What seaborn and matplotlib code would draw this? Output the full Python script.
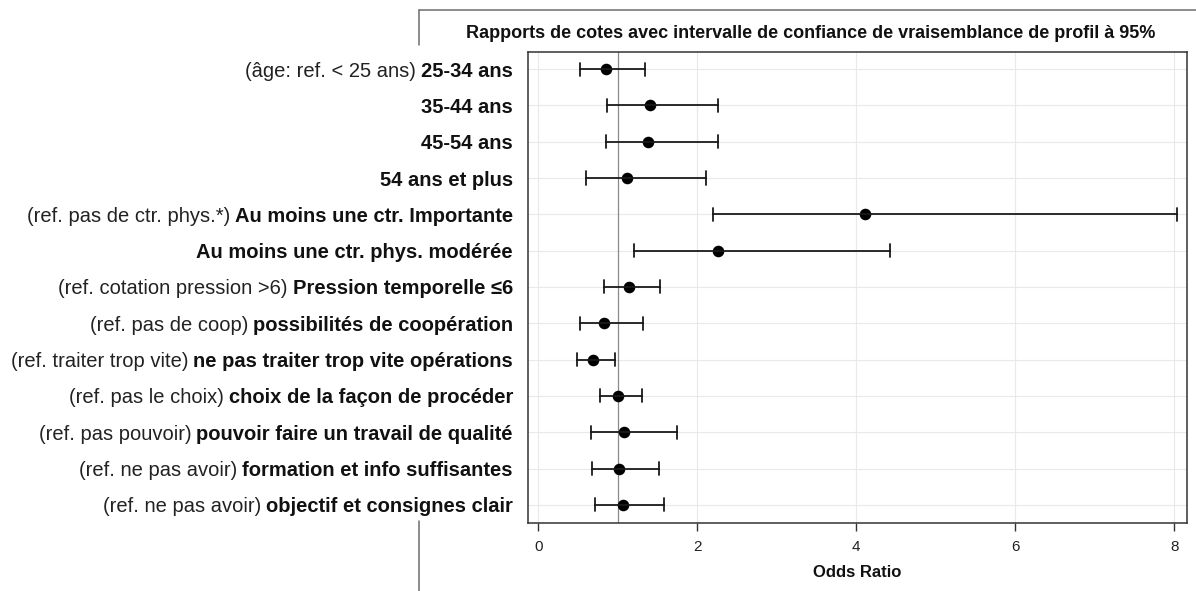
import numpy as np
import pandas as pd
import matplotlib
matplotlib.use("Agg")
import matplotlib.pyplot as plt
import matplotlib.transforms as mtransforms
from matplotlib import font_manager
from matplotlib.lines import Line2D
import seaborn as sns

# ---------------- data ----------------
ref_labels = [
    "(âge: ref. < 25 ans)", "", "", "",
    "(ref. pas de ctr. phys.*)", "",
    "(ref. cotation pression >6)",
    "(ref. pas de coop)",
    "(ref. traiter trop vite)",
    "(ref. pas le choix)",
    "(ref. pas pouvoir)",
    "(ref. ne pas avoir)",
    "(ref. ne pas avoir)",
]
main_labels = [
    "25-34 ans", "35-44 ans", "45-54 ans", "54 ans et plus",
    "Au moins une ctr. Importante", "Au moins une ctr. phys. modérée",
    "Pression temporelle ≤6",
    "possibilités de coopération",
    "ne pas traiter trop vite opérations",
    "choix de la façon de procéder",
    "pouvoir faire un travail de qualité",
    "formation et info suffisantes",
    "objectif et consignes clair",
]
odds_ratio = [0.85, 1.40, 1.38, 1.12, 4.11, 2.26, 1.14, 0.83, 0.69, 1.00, 1.08, 1.02, 1.06]
ci_lower   = [0.52, 0.86, 0.85, 0.60, 2.20, 1.20, 0.83, 0.52, 0.49, 0.77, 0.66, 0.67, 0.71]
ci_upper   = [1.34, 2.26, 2.26, 2.11, 8.04, 4.43, 1.53, 1.32, 0.97, 1.31, 1.74, 1.52, 1.58]
x_ticks = [0, 2, 4, 6, 8]
title = "Rapports de cotes avec intervalle de confiance de vraisemblance de profil à 95%"
x_label = "Odds Ratio"

# long table: lower / estimate / upper per row
df = pd.DataFrame({
    "label": np.repeat(main_labels, 3),
    "value": np.ravel(np.column_stack([ci_lower, odds_ratio, ci_upper])),
})

# ---------------- fonts ----------------
sns.set_style("white")
plt.rcParams["font.family"] = ["Liberation Sans", "DejaVu Sans"]

W, H = 1196, 591
fig = plt.figure(figsize=(W / 100, H / 100), dpi=100)
ax_l, ax_r, ax_t, ax_b = 528, 1187, 52, 523
ax = fig.add_axes([ax_l / W, 1 - ax_b / H, (ax_r - ax_l) / W, (ax_b - ax_t) / H])

ax.axvline(1, color="#8a8a8a", lw=0.9, zorder=1.5)

sns.pointplot(
    data=df, x="value", y="label", order=main_labels, orient="h",
    estimator="median", errorbar=lambda v: (v.min(), v.max()),
    color="black", linestyle="none", marker="o", markersize=6.3,
    capsize=0.36, err_kws={"linewidth": 1.3, "color": "#1a1a1a"}, ax=ax,
)

ax.set_xlim(-0.13, 8.16)
ax.set_ylim(len(main_labels) - 0.5, -0.47)
ax.set_xticks(x_ticks)
ax.set_xticklabels([str(t) for t in x_ticks], fontsize=11, color="#222")
ax.tick_params(axis="x", direction="out", length=6, width=1, color="#333", pad=6, bottom=True)
ax.tick_params(axis="y", length=0, labelleft=False)
ax.set_ylabel("")
ax.set_xlabel(x_label, fontweight="bold", fontsize=12, labelpad=8, color="#111")
ax.grid(True, color="#e9e9e9", linewidth=0.8)
ax.set_axisbelow(True)
for s in ax.spines.values():
    s.set_visible(True)
    s.set_color("#333333")
    s.set_linewidth(1.1)

# title
fig.text(811 / W, 1 - 34 / H, title, ha="center", va="center", fontweight="bold",
         fontsize=13, color="#111")

# outer frame fragments
frame_kw = dict(color="#6e6e6e", lw=1.1, transform=fig.transFigure)
fig.add_artist(Line2D([419 / W, 1.0], [1 - 10 / H, 1 - 10 / H], **frame_kw))
fig.add_artist(Line2D([419 / W, 419 / W], [1 - 10 / H, 1 - 45 / H], **frame_kw))
fig.add_artist(Line2D([419 / W, 419 / W], [1 - 521 / H, 0.0], **frame_kw))

# mixed-weight row labels
trans = mtransforms.blended_transform_factory(ax.transAxes, ax.transData)
fig.canvas.draw()
renderer = fig.canvas.get_renderer()
axbb = ax.get_window_extent(renderer)
x_right = (513 - ax_l) / (ax_r - ax_l)
fs = 14.5
for i, (rl, ml) in enumerate(zip(ref_labels, main_labels)):
    tb = ax.text(x_right, i, ml, ha="right", va="center_baseline", fontweight="bold",
                 fontsize=fs, color="#111", transform=trans, clip_on=False)
    if rl:
        bb = tb.get_window_extent(renderer)
        xr = (bb.x0 - 5 - axbb.x0) / axbb.width
        ax.text(xr, i, rl, ha="right", va="center_baseline", fontsize=fs,
                color="#222", transform=trans, clip_on=False)

fig.savefig("out.png", dpi=100)
